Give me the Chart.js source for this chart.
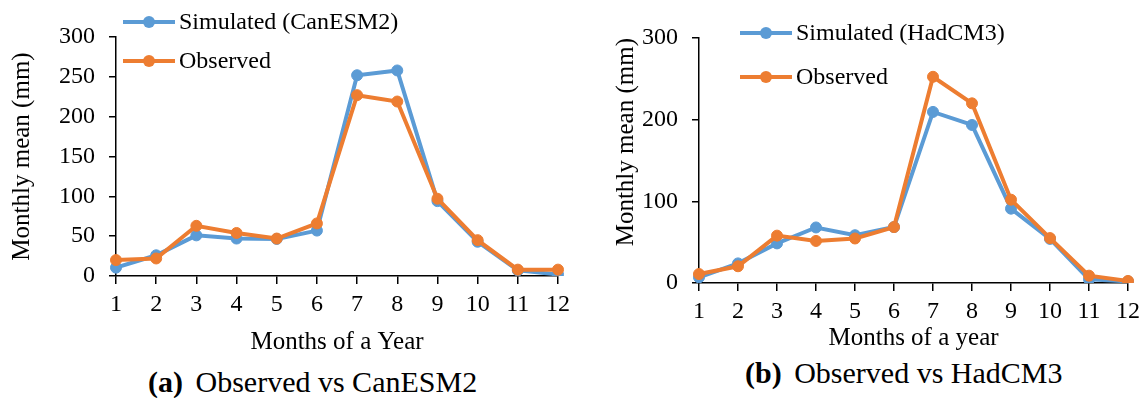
<!DOCTYPE html>
<html>
<head>
<meta charset="utf-8">
<script src="https://cdn.jsdelivr.net/npm/chart.js@4/dist/chart.umd.min.js"></script>
<style>
  body { margin: 0; background: #fff; width: 1146px; height: 398px; position: relative; overflow: hidden; }
  canvas { position: absolute; top: 0; }
  .cap { position: absolute; font-family: "Times New Roman", "Liberation Serif", Times, serif; font-size: 30px; color: #000; white-space: nowrap; line-height: 34px; }
  .cap b { margin-right: 5px; }
</style>
</head>
<body>
<canvas id="chartA" width="580" height="357" style="left:0"></canvas>
<canvas id="chartB" width="566" height="353" style="left:580px"></canvas>
<div class="cap" style="left:148px; top:365px"><b>(a)</b> Observed vs CanESM2</div>
<div class="cap" style="left:745px; top:356px"><b>(b)</b> Observed vs HadCM3</div>
<script>
// data
var months = ["1", "2", "3", "4", "5", "6", "7", "8", "9", "10", "11", "12"];

var simCanESM2 = [10.5, 26, 51, 47, 46.5, 57, 252, 258, 94, 43, 7, 2];
var obsA = [20, 22, 63, 54, 47, 66, 227, 219, 97, 45, 8, 8];

var simHadCM3 = [7, 24, 48.5, 68, 58.5, 68.5, 209.5, 193.5, 91, 54, 4.5, 2];
var obsB = [11, 20.5, 58, 51.5, 54.5, 68.5, 252.5, 220, 102, 55, 9, 2.5];

var BLUE = "#5B9BD5", ORANGE = "#ED7D31";
var FONT = "'Times New Roman', 'Liberation Serif', Times, serif";

// legend: short line with a dot, like the Excel one
var lineLegend = {
    id: "lineLegend",
    afterDraw: function(chart, args, opts) {
	var ctx = chart.ctx;
	ctx.save();
	chart.data.datasets.forEach(function(ds, i) {
	    var y = opts.y + i * opts.gap;
	    ctx.strokeStyle = ds.borderColor;
	    ctx.lineWidth = 4;
	    ctx.beginPath();
	    ctx.moveTo(opts.x, y);
	    ctx.lineTo(opts.x + 52, y);
	    ctx.stroke();
	    ctx.fillStyle = ds.borderColor;
	    ctx.beginPath();
	    ctx.arc(opts.x + 26, y, 6, 0, Math.PI * 2);
	    ctx.fill();
	    ctx.fillStyle = "#000";
	    ctx.font = "24px " + FONT;
	    ctx.textBaseline = "middle";
	    ctx.fillText(ds.label, opts.x + 56, y + 1);
	});
	ctx.restore();
    }
};

function series(label, values, color, order) {
    return {
	label: label, data: values, order: order,
	borderColor: color, backgroundColor: color,
	borderWidth: 4, pointRadius: 5.5, pointBorderWidth: 1,
	pointBackgroundColor: color, pointBorderColor: color,
	tension: 0, fill: false
    };
}

function drawChart(id, simLabel, sim, obs, cfg) {
    var ctx = document.getElementById(id).getContext("2d");
    return new Chart(ctx, {
	type: "line",
	data: {
	    labels: months,
	    datasets: [series(simLabel, sim, BLUE, 1), series("Observed", obs, ORANGE, 0)]
	},
	plugins: [lineLegend],
	options: {
	    responsive: false,
	    animation: false,
	    devicePixelRatio: 1,
	    layout: { padding: { top: cfg.top, right: cfg.right, left: 0, bottom: 0 } },
	    plugins: {
		legend: { display: false },
		tooltip: { enabled: false },
		lineLegend: cfg.legend
	    },
	    scales: {
		x: {
		    offset: false,
		    grid: { drawOnChartArea: false, drawTicks: true, tickLength: 8, color: "#000", lineWidth: 1.5, offset: false },
		    border: { display: true, color: "#000", width: 1.5 },
		    ticks: { color: "#000", padding: 6, maxRotation: 0, autoSkip: false, font: { family: FONT, size: 24 } },
		    title: { display: true, text: cfg.xTitle, color: "#000", padding: 0, font: { family: FONT, size: 25 } },
		    afterFit: function(s) { s.height = cfg.xH; }
		},
		y: {
		    min: 0, max: 300,
		    grid: { drawOnChartArea: false, drawTicks: true, tickLength: 7, color: "#000", lineWidth: 1.5 },
		    border: { display: true, color: "#000", width: 1.5 },
		    ticks: { stepSize: cfg.step, color: "#000", padding: 14, font: { family: FONT, size: 24 } },
		    title: { display: true, text: "Monthly mean (mm)", align: cfg.yAlign, color: "#000",
			     padding: { top: cfg.yPad, bottom: 0 }, font: { family: FONT, size: 25 } },
		    afterFit: function(s) { s.width = cfg.yW; }
		}
	    }
	}
    });
}

function main() {
    drawChart("chartA", "Simulated (CanESM2)", simCanESM2, obsA, {
	top: 37, right: 22, xH: 81, yW: 116, step: 50, yPad: 7, yAlign: "center",
	xTitle: "Months of a Year",
	legend: { x: 123, y: 22, gap: 39 }
    });
    drawChart("chartB", "Simulated (HadCM3)", simHadCM3, obsB, {
	top: 38, right: 16, xH: 70, yW: 119, step: 100, yPad: 31, yAlign: "end",
	xTitle: "Months of a year",
	legend: { x: 160, y: 33, gap: 44 }
    });
}

main();
</script>
</body>
</html>
